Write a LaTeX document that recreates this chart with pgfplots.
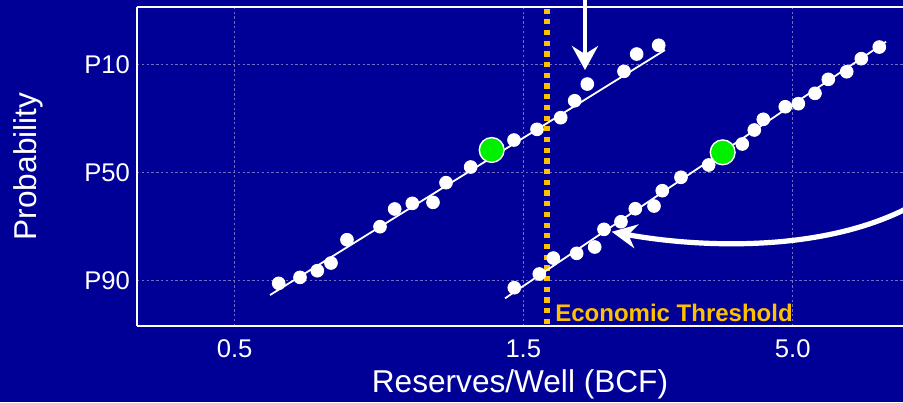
\documentclass[border=0pt]{standalone}
\usepackage{fontspec}
\setmainfont{Liberation Sans}
\usepackage{pgfplots}
\pgfplotsset{compat=1.18}
\usetikzlibrary{arrows.meta}
\definecolor{bg}{RGB}{0,0,150}
\definecolor{thr}{RGB}{255,192,0}
\definecolor{gridc}{RGB}{110,110,200}
\definecolor{ptgreen}{RGB}{0,240,0}
\begin{document}
\begin{tikzpicture}
\useasboundingbox (-68.5pt,-38pt) rectangle (383pt,163pt);
\clip (-68.5pt,-38pt) rectangle (383pt,163pt);
\fill[bg] (-68.5pt,-38pt) rectangle (383pt,163pt);
\begin{axis}[
  at={(0,0)}, anchor=south west,
  scale only axis, width=383pt, height=159.5pt,
  xmin=-0.3385, xmax=2.3157, ymin=-1.823, ymax=1.961,
  axis x line*=box, axis y line*=left,
  axis line style={white, line width=1pt},
  xtick={0,1,1.9335}, xticklabels={0.5,1.5,5.0},
  ytick={-1.2816,0,1.2816}, yticklabels={P90,P50,P10},
  major tick length=0,
  grid=major, grid style={gridc, line width=0.4pt, dash pattern=on 1.2pt off 1.2pt},
  tick label style={white, font=\fontsize{12.8}{15}\selectfont},
  xticklabel style={yshift=-3.2pt},
  xlabel={Reserves/Well (BCF)}, ylabel={Probability},
  label style={white, font=\fontsize{15.8}{18}\selectfont},
  xlabel style={at={(axis description cs:0.5,-0.21)}, anchor=base},
  ylabel style={at={(axis description cs:-0.1423,0.5)}, anchor=center},
  clip=false,
]
\draw[thr, line width=3pt, dash pattern=on 2.6pt off 2.75pt] (axis cs:1.0832,-1.80) -- (axis cs:1.0832,1.961);
\node[thr, anchor=base west, inner sep=0pt, font=\fontsize{12}{14}\selectfont\bfseries] at (axis cs:1.1098,-1.772) {Economic Threshold};

\addplot[white, line width=0.9pt] coordinates {(0.1223,-1.456) (1.491,1.451)};
\addplot[white, line width=0.9pt] coordinates {(0.9366,-1.495) (2.2568,1.549)};

\addplot[only marks, mark=*, mark size=3.2pt, white, mark options={fill=white}] coordinates {
(0.1525,-1.317) (0.2263,-1.246) (0.2862,-1.167) (0.3337,-1.076) (0.3891,-0.800)
(0.5035,-0.645) (0.5544,-0.435) (0.6154,-0.368) (0.6871,-0.356) (0.7322,-0.123)
(0.8177,0.063) (0.9678,0.383) (1.0475,0.510) (1.1296,0.648) (1.1781,0.849)
(1.2218,1.047) (1.3489,1.198) (1.3929,1.403) (1.4692,1.507)
};
\addplot[only marks, mark=*, mark size=3.2pt, white, mark options={fill=white}] coordinates {
(0.9688,-1.369) (1.0554,-1.206) (1.1040,-1.017) (1.1850,-0.961) (1.2474,-0.886)
(1.2796,-0.676) (1.3385,-0.586) (1.3881,-0.432) (1.4529,-0.400) (1.4816,-0.218)
(1.5464,-0.059) (1.6424,0.087) (1.7588,0.336) (1.8004,0.502) (1.8316,0.629)
(1.9078,0.778) (1.9529,0.814) (2.0107,0.937) (2.0568,1.103) (2.1206,1.193)
(2.1712,1.348) (2.2335,1.486)
};
\addplot[only marks, mark=*, mark size=6.2pt, mark options={fill=ptgreen, draw=white, line width=0.7pt}] coordinates {
(0.8905,0.265) (1.6909,0.237)
};

\draw[white, line width=2.4pt, -{Stealth[length=12pt,width=13pt,inset=4pt]}] (axis cs:1.2138,2.25) -- (axis cs:1.2138,1.213);
\draw[white, line width=2.6pt, -{Stealth[length=12.5pt,width=12pt,inset=4pt]}] (axis cs:2.4092,-0.269) .. controls (axis cs:2.0974,-0.981) and (axis cs:1.6123,-0.898) .. (axis cs:1.3063,-0.705);
\end{axis}
\end{tikzpicture}
\end{document}
